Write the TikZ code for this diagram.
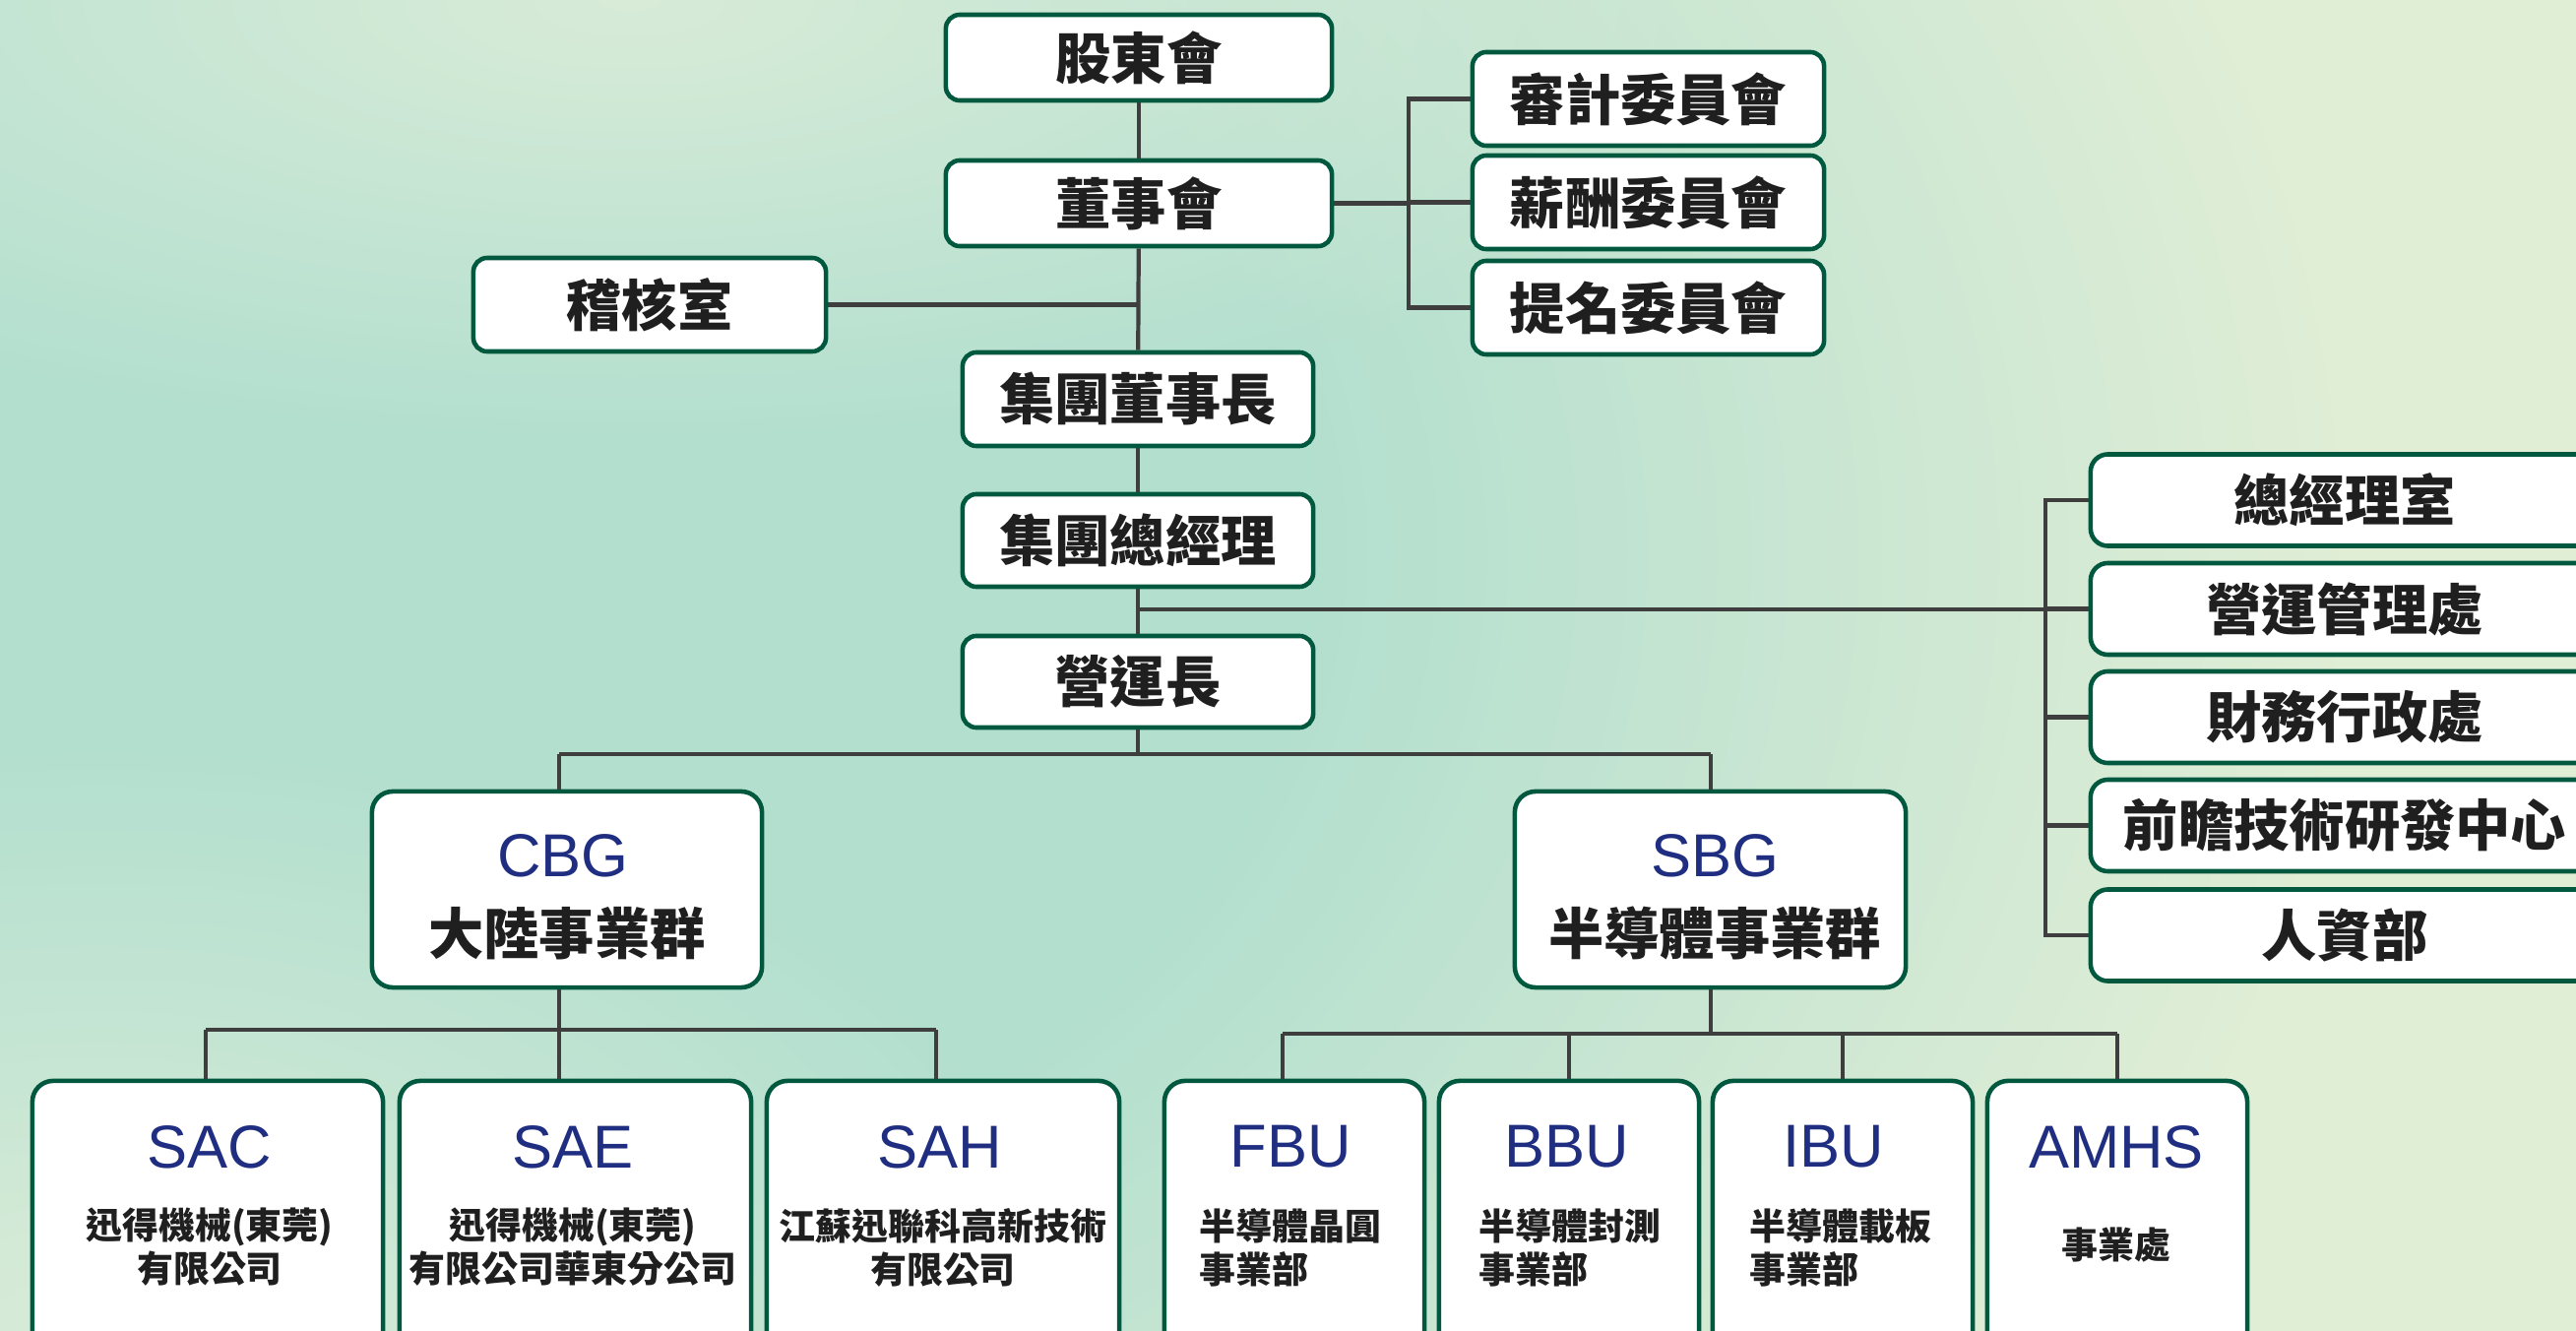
\documentclass[tikz,border=0pt]{standalone}
\usepackage{fontspec}
\setmainfont{Liberation Sans}
\newfontfamily\cjk{Noto Sans CJK TC}
\usetikzlibrary{fadings}
\tikzfading[name=softspot, inner color=transparent!0, outer color=transparent!100]
\pgfdeclareradialshading{plateaushade}{\pgfpointorigin}{color(0bp)=(white); color(11bp)=(white); color(25bp)=(black); color(50bp)=(black)}
\pgfdeclarefading{plateau}{\pgfuseshading{plateaushade}}
\definecolor{boxgreen}{RGB}{0,88,62}
\definecolor{linegray}{RGB}{62,62,62}
\definecolor{titleblue}{RGB}{31,46,128}
\definecolor{bgteal}{RGB}{179,223,207}
\definecolor{bglight}{RGB}{224,238,214}
\definecolor{bgspot}{RGB}{216,236,216}
\tikzset{
  mbox/.style={draw=boxgreen, line width=1.3pt, fill=white, rounded corners=4pt, inner sep=0pt,
    font={\cjk\bfseries\fontsize{16}{19}\selectfont}, text=black!88},
  rbox/.style={mbox, rounded corners=5pt, minimum width=5.16cm, minimum height=0.93cm},
  bigbox/.style={draw=boxgreen, line width=1.3pt, fill=white, rounded corners=6pt, inner sep=0pt},
  conn/.style={draw=linegray, line width=1.2pt},
  ttl/.style={font={\fontsize{17.5}{20}\selectfont}, text=titleblue, inner sep=0pt},
  bigcjk/.style={font={\cjk\bfseries\fontsize{16}{19}\selectfont}, text=black!88, inner sep=0pt},
  subcjk/.style={font={\cjk\bfseries\fontsize{10.5}{12.5}\selectfont}, text=black!88, inner sep=0pt}
}
\begin{document}
\begin{tikzpicture}[x=0.01cm,y=-0.01cm]
\useasboundingbox (0,0) rectangle (2617,1352);
% background
\fill[bglight] (0,0) rectangle (2617,1352);
\fill[bgteal, path fading=plateau] (480,560) ellipse [x radius=19cm, y radius=15cm];
\fill[bgspot, path fading=softspot] (640,0) ellipse [x radius=12cm, y radius=4.5cm];
\fill[bgspot, path fading=softspot] (100,1352) ellipse [x radius=10cm, y radius=6cm];

% top chain
\node[mbox, minimum width=3.92cm, minimum height=0.87cm] (sh) at (1157,58.5) {股東會};
\node[mbox, minimum width=3.92cm, minimum height=0.87cm] (bd) at (1157,206.5) {董事會};
\node[mbox, minimum width=3.58cm, minimum height=0.95cm] (au) at (660,309.5) {稽核室};
\node[mbox, minimum width=3.57cm, minimum height=0.95cm] (c1) at (1674.5,100.5) {審計委員會};
\node[mbox, minimum width=3.57cm, minimum height=0.95cm] (c2) at (1674.5,205.5) {薪酬委員會};
\node[mbox, minimum width=3.57cm, minimum height=0.95cm] (c3) at (1674.5,312.5) {提名委員會};
\node[mbox, minimum width=3.56cm, minimum height=0.95cm] (ch) at (1156,405.5) {集團董事長};
\node[mbox, minimum width=3.56cm, minimum height=0.94cm] (gm) at (1156,549) {集團總經理};
\node[mbox, minimum width=3.56cm, minimum height=0.93cm] (coo) at (1156,692.5) {營運長};

% right column
\node[rbox] (r1) at (2382,508) {總經理室};
\node[rbox] (r2) at (2382,618.5) {營運管理處};
\node[rbox] (r3) at (2382,728.5) {財務行政處};
\node[rbox] (r4) at (2382,838.5) {前瞻技術研發中心};
\node[rbox] (r5) at (2382,950) {人資部};

% connectors top
\draw[conn] (sh) -- (bd);
\draw[conn] (bd) -- (ch);
\draw[conn] (au.east) -- (au.east -| bd.south);
\coordinate (cj) at (1431,206.5);
\draw[conn] (bd.east) -- (cj);
\draw[conn] (c1.west) -- (c1.west -| cj) -- (c3.west -| cj) -- (c3.west);
\draw[conn] (c2.west) -- (c2.west -| cj);
\draw[conn] (ch) -- (gm);
\draw[conn] (gm) -- (coo);
\coordinate (rj) at (2078,619);
\draw[conn] (rj -| gm.south) -- (rj);
\draw[conn] (r1.west) -- (r1.west -| rj) -- (r5.west -| rj) -- (r5.west);
\draw[conn] (r2.west) -- (r2.west -| rj);
\draw[conn] (r3.west) -- (r3.west -| rj);
\draw[conn] (r4.west) -- (r4.west -| rj);

% business groups
\node[bigbox, minimum width=3.96cm, minimum height=1.99cm] (cbg) at (576,903.5) {};
\node[bigbox, minimum width=3.97cm, minimum height=1.99cm] (sbg) at (1737.5,903.5) {};
\node[ttl] (cbgt) at (572,869) {CBG};
\node[bigcjk] (cbgs) at (576,948) {大陸事業群};
\node[ttl] (sbgt) at (1742,869) {SBG};
\node[bigcjk] (sbgs) at (1742,948) {半導體事業群};

\coordinate (cb) at (1156,766);
\coordinate (lb) at (568,766);
\coordinate (rb) at (1738,766);
\draw[conn] (coo) -- (cb);
\draw[conn] (lb) -- (rb);
\draw[conn] (lb) -- (lb |- cbg.north);
\draw[conn] (rb) -- (rb |- sbg.north);

% bottom boxes
\node[bigbox, minimum width=3.56cm, minimum height=3.02cm] (sac) at (211,1249) {};
\node[bigbox, minimum width=3.57cm, minimum height=3.02cm] (sae) at (584.5,1249) {};
\node[bigbox, minimum width=3.58cm, minimum height=3.02cm] (sah) at (958,1249) {};
\node[bigbox, minimum width=2.64cm, minimum height=3.02cm] (fbu) at (1315,1249) {};
\node[bigbox, minimum width=2.64cm, minimum height=3.02cm] (bbu) at (1594,1249) {};
\node[bigbox, minimum width=2.64cm, minimum height=3.02cm] (ibu) at (1872,1249) {};
\node[bigbox, minimum width=2.64cm, minimum height=3.02cm] (amhs) at (2151,1249) {};

\coordinate (cm) at (568,1046);
\coordinate (cl) at (209,1046);
\coordinate (cr) at (951,1046);
\draw[conn] (cm |- cbg.south) -- (cm);
\draw[conn] (cl) -- (cr);
\draw[conn] (cl) -- (cl |- sac.north);
\draw[conn] (cm) -- (cm |- sae.north);
\draw[conn] (cr) -- (cr |- sah.north);

\coordinate (sm) at (1738,1050);
\coordinate (s1) at (1303,1050);
\coordinate (s2) at (1594,1050);
\coordinate (s3) at (1872,1050);
\coordinate (s4) at (2151,1050);
\draw[conn] (sm |- sbg.south) -- (sm);
\draw[conn] (s1) -- (s4);
\draw[conn] (s1) -- (s1 |- fbu.north);
\draw[conn] (s2) -- (s2 |- bbu.north);
\draw[conn] (s3) -- (s3 |- ibu.north);
\draw[conn] (s4) -- (s4 |- amhs.north);

% bottom texts
\node[ttl] (sact) at (213,1165) {SAC};
\node[subcjk, align=center] (sacs) at (213,1267) {迅得機械(東莞)\\有限公司};
\node[ttl] (saet) at (582,1165) {SAE};
\node[subcjk, align=center] (saes) at (582,1267) {迅得機械(東莞)\\有限公司華東分公司};
\node[ttl] (saht) at (955,1165) {SAH};
\node[subcjk, align=center] (sahs) at (958,1267) {江蘇迅聯科高新技術\\有限公司};
\node[ttl] (fbut) at (1311,1165) {FBU};
\node[subcjk, align=left] (fbus) at (1311,1267) {半導體晶圓\\事業部};
\node[ttl] (bbut) at (1592,1165) {BBU};
\node[subcjk, align=left] (bbus) at (1595,1267) {半導體封測\\事業部};
\node[ttl] (ibut) at (1863,1165) {IBU};
\node[subcjk, align=left] (ibus) at (1870,1267) {半導體載板\\事業部};
\node[ttl] (amhst) at (2150,1165) {AMHS};
\node[subcjk] (amhss) at (2150,1265) {事業處};
\end{tikzpicture}
\end{document}
